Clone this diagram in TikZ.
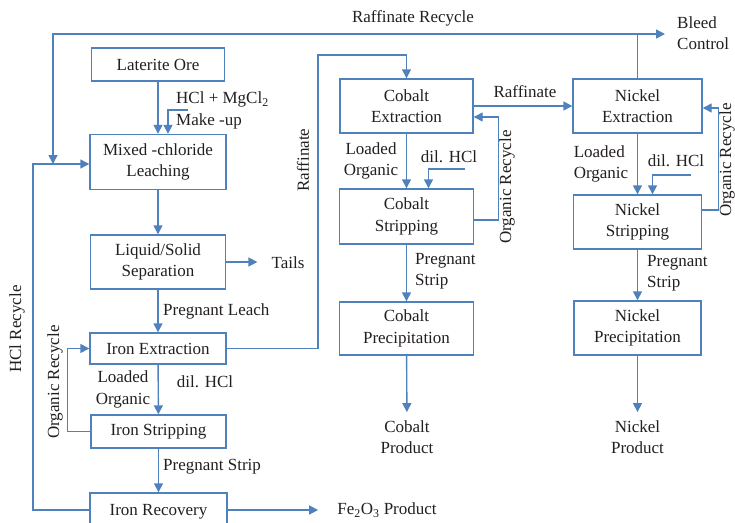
\documentclass[tikz,border=0pt]{standalone}
\usepackage{fontspec}
\setmainfont{Liberation Serif}
\usetikzlibrary{arrows.meta}
\definecolor{flow}{RGB}{79,129,189}
\definecolor{ink}{RGB}{35,31,32}
\begin{document}
\begin{tikzpicture}[x=1pt,y=-1pt,
  font=\fontsize{17}{21.5}\selectfont,
  box/.style={draw=flow, line width=1.4pt, inner sep=0pt, align=center, text=ink},
  arr/.style={draw=flow, line width=1.4pt, -{Triangle[length=9pt,width=9pt]}},
  ln/.style={draw=flow, line width=1.4pt},
  lbl/.style={text=ink, inner sep=0pt, align=center}]
\useasboundingbox (0,0) rectangle (735,522);

% boxes
\node[box, minimum width=133pt, minimum height=33pt] (ore) at (158,64.5) {Laterite Ore};
\node[box, minimum width=136pt, minimum height=55pt] (leach) at (158,162) {Mixed -chloride\\Leaching};
\node[box, minimum width=135pt, minimum height=54pt] (sep) at (158,262) {Liquid/Solid\\Separation};
\node[box, minimum width=136pt, minimum height=31pt] (feext) at (158,348.5) {Iron Extraction};
\node[box, minimum width=135pt, minimum height=33pt] (festrip) at (158.5,431.5) {Iron Stripping};
\node[box, minimum width=137pt, minimum height=44pt, text height=12pt, text depth=12pt] (ferec) at (158.5,515) {Iron Recovery};
\node[box, minimum width=133pt, minimum height=54pt] (coext) at (406.5,106) {Cobalt\\Extraction};
\node[box, minimum width=134pt, minimum height=55pt] (costrip) at (406.5,216.5) {Cobalt\\Stripping};
\node[box, minimum width=134pt, minimum height=53pt] (coprec) at (406.5,328.5) {Cobalt\\Precipitation};
\node[box, minimum width=129pt, minimum height=54pt] (niext) at (637.5,106) {Nickel\\Extraction};
\node[box, minimum width=128pt, minimum height=54pt] (nistrip) at (637.5,222) {Nickel\\Stripping};
\node[box, minimum width=127pt, minimum height=54pt] (niprec) at (637.5,328) {Nickel\\Precipitation};

% end texts
\node[lbl] (coprod) at (407,437) {Cobalt\\Product};
\node[lbl] (niprod) at (637.5,437) {Nickel\\Product};
\node[lbl] (tails) at (288,263) {Tails};
\node[lbl] (fe2o3) at (387,510) {Fe\textsubscript{2}O\textsubscript{3} Product};
\node[lbl, align=left, anchor=west] (bleed) at (677,33) {Bleed\\Control};

% labels
\node[lbl] (lrr) at (413,18) {Raffinate Recycle};
\node[lbl, align=left, anchor=west] (lmk) at (176,110.5) {HCl + MgCl\textsubscript{2}\\Make -up};
\node[lbl, anchor=west] (lpl) at (163,311) {Pregnant Leach};
\node[lbl] (lfelo) at (123,389.5) {Loaded\\Organic};
\node[lbl] (lfedil) at (205,382) {dil. HCl};
\node[lbl, anchor=west] (lfeps) at (163,467) {Pregnant Strip};
\node[lbl, rotate=90] (lhcl) at (17,329) {HCl Recycle};
\node[lbl, rotate=90] (lfeor) at (55,382) {Organic Recycle};
\node[lbl, rotate=90] (lraf1) at (303,160) {Raffinate};
\node[lbl] (lraf2) at (525,92) {Raffinate};
\node[lbl] (lcolo) at (371,161) {Loaded\\Organic};
\node[lbl] (lcodil) at (449,157) {dil. HCl};
\node[lbl, rotate=90] (lcoor) at (507,187) {Organic Recycle};
\node[lbl, align=left, anchor=west] (lcops) at (415,271) {Pregnant\\Strip};
\node[lbl, align=left] (lnilo) at (601,164) {Loaded\\Organic};
\node[lbl] (lnidil) at (676,161) {dil. HCl};
\node[lbl, rotate=90] (lnior) at (727,160) {Organic Recycle};
\node[lbl, align=left, anchor=west] (lnips) at (647,273) {Pregnant\\Strip};

% coordinates
\coordinate (mk) at (188,110);
\coordinate (rr) at (637.5,34);
\coordinate (rrL) at (53,34);
\coordinate (rrD) at (53,164);
\coordinate (hcl) at (33,164);
\coordinate (rafc) at (318,55);
\coordinate (cod) at (465,169);
\coordinate (nid) at (691,175);

% left column
\draw[arr] (ore) -- (leach);
\draw[arr] (mk) -| ([xshift=10pt]leach.north);
\draw[arr] (leach) -- (sep);
\draw[arr, shorten >=14pt] (sep.east) -- (sep.east -| tails.west);
\draw[arr] (sep) -- (feext);
\draw[arr] (feext) -- (festrip);
\draw[arr] (festrip.west) -- ++(-23,0) |- (feext.west);
\draw[arr] (festrip) -- (ferec);
\draw[arr, shorten >=19pt] ([yshift=5pt]ferec.east) -- ([yshift=5pt]ferec.east -| fe2o3.west);
\draw[arr] ([yshift=5pt]ferec.west) -| (hcl) -- ([yshift=-2pt]leach.west);

% raffinate recycle
\draw[ln] (niext.north) -- (rr);
\draw[arr, shorten >=12pt] (rr) -- (rr -| bleed.west);
\draw[arr] (rr) -- (rrL) -- (rrD);

% iron raffinate to cobalt
\draw[arr] (feext.east) -| (rafc) -| (coext.north);

% cobalt
\draw[arr] (coext) -- (costrip);
\draw[arr] (cod) -| ([xshift=22pt]costrip.north);
\draw[arr] ([yshift=-3.5pt]costrip.east) -- ++(24,0) |- ([yshift=-11pt]coext.east);
\draw[arr] (costrip) -- (coprec);
\draw[arr, shorten >=8pt] (coprec) -- (coprod);
\draw[arr] (coext.east) -- (niext.west);

% nickel
\draw[arr] (niext) -- (nistrip);
\draw[arr] (nid) -| ([xshift=15pt]nistrip.north);
\draw[arr] ([yshift=12pt]nistrip.east) -- ++(16,0) |- ([yshift=-2pt]niext.east);
\draw[arr] (nistrip) -- (niprec);
\draw[arr, shorten >=8pt] (niprec) -- (niprod);
\end{tikzpicture}
\end{document}
